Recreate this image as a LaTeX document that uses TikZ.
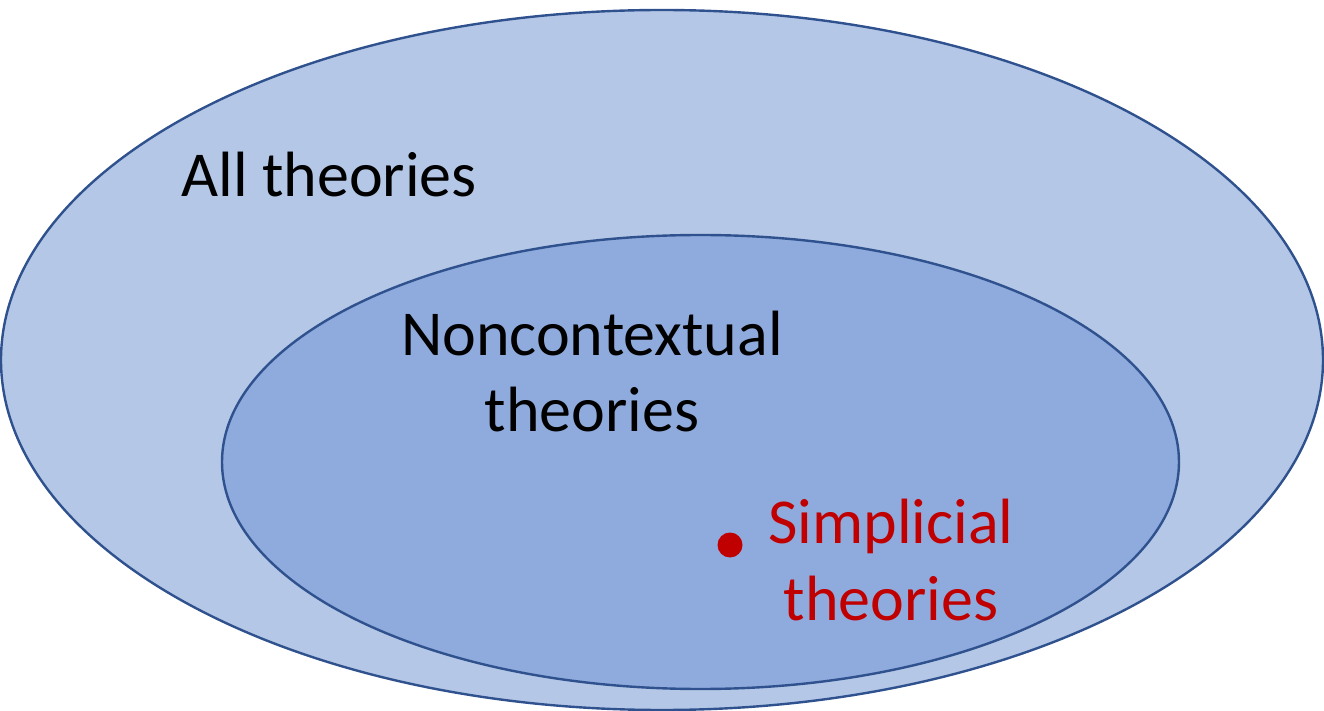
\documentclass[tikz,border=0pt]{standalone}
\usepackage{fontspec}
\setmainfont{Carlito}
\usetikzlibrary{positioning}
\definecolor{Edge}{HTML}{2F528F}
\definecolor{OuterFill}{HTML}{B4C7E7}
\definecolor{InnerFill}{HTML}{8FAADC}
\definecolor{Red}{HTML}{C00000}
\begin{document}
\begin{tikzpicture}[x=0.5pt, y=-0.5pt, every node/.style={font=\fontsize{32}{38.4}\selectfont, inner sep=0pt}]
\useasboundingbox (0,0) rectangle (1324,711);
\draw[line width=1.2pt, draw=Edge, fill=OuterFill] (662,360) ellipse [x radius=661, y radius=350];
\draw[line width=1.2pt, draw=Edge, fill=InnerFill] (700.5,462) ellipse [x radius=478.5, y radius=227];
\node[anchor=base] (all) at (329,197) {All theories};
\node[anchor=base, align=center] (noncont) at (592,432) {Noncontextual\\theories};
\node[anchor=base, align=center, text=Red] (simpl) at (891,620) {Simplicial\\theories};
\node[circle, fill=Red, minimum size=12.5pt] (dot) at (730,545) {};
\end{tikzpicture}
\end{document}
